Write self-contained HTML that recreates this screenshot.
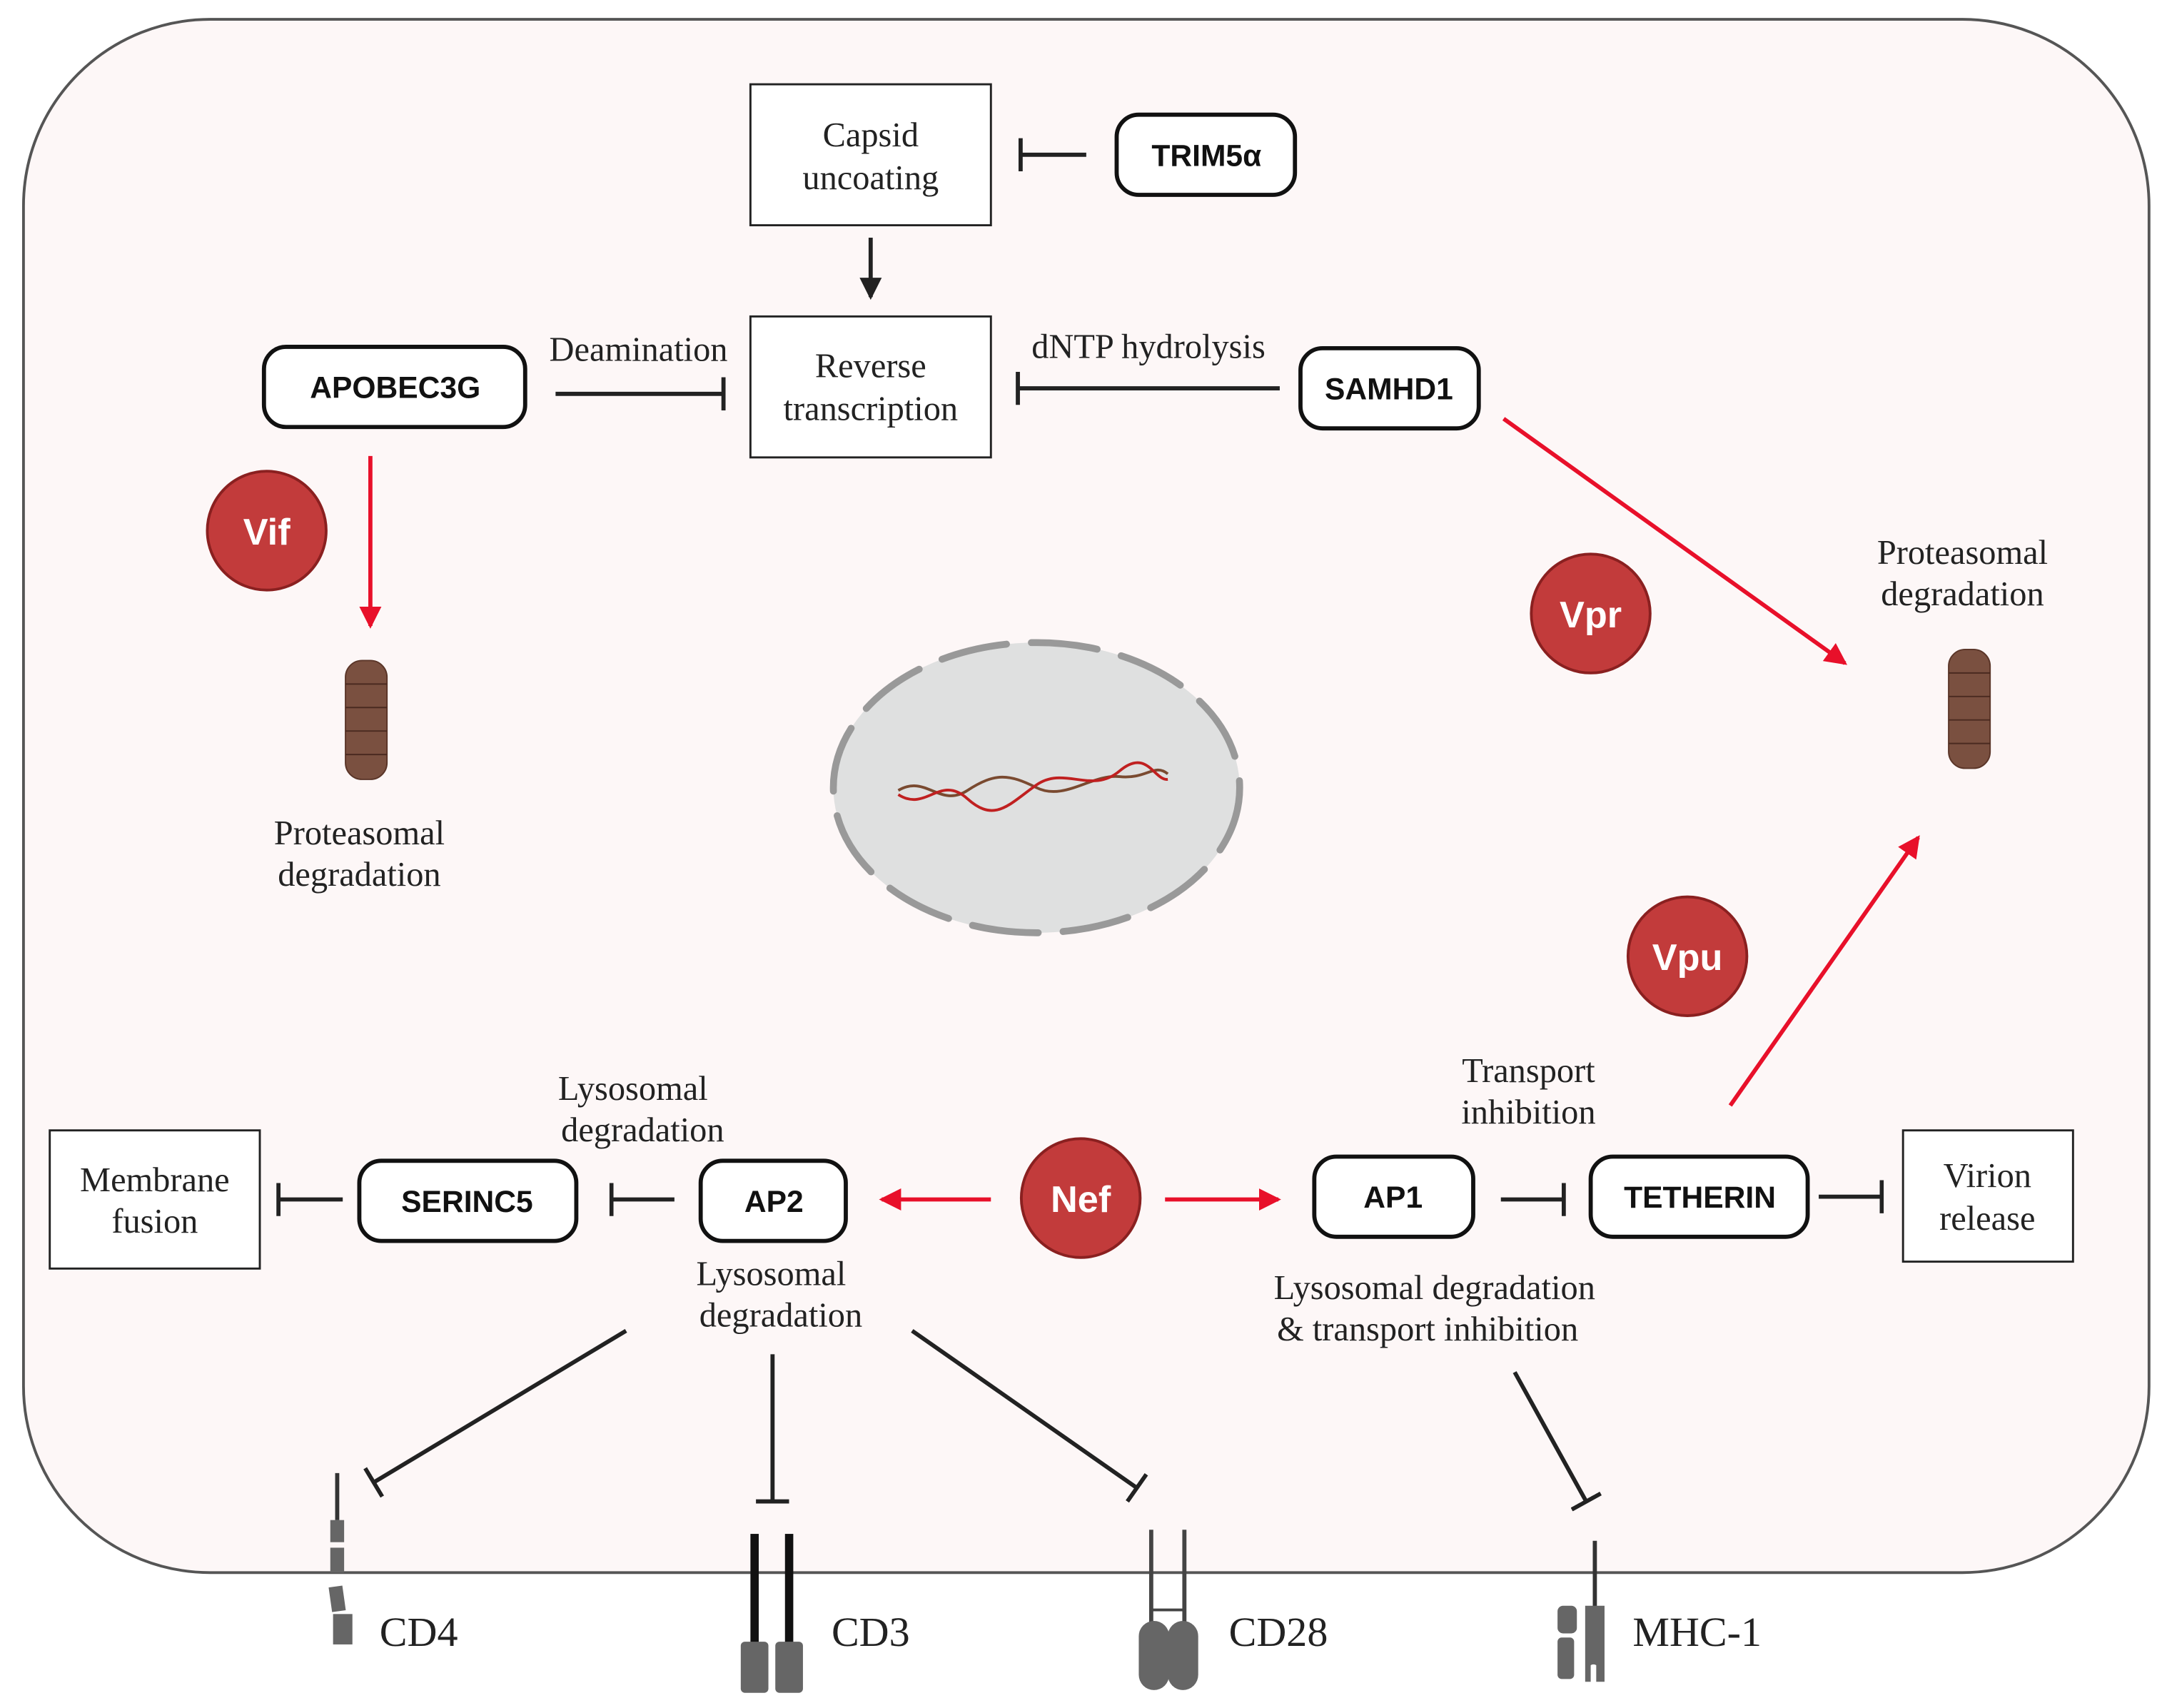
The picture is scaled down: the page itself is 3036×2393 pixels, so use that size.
<!DOCTYPE html>
<html><head><meta charset="utf-8"><style>
html,body{margin:0;padding:0;background:#fff;width:3036px;height:2393px;overflow:hidden}
svg{display:block}
.s{font-family:"Liberation Serif",serif;font-size:25px;fill:#222;text-anchor:middle}
.b{font-family:"Liberation Sans",sans-serif;font-size:22px;font-weight:bold;fill:#111;text-anchor:middle}
.v{font-family:"Liberation Sans",sans-serif;font-size:27px;font-weight:bold;fill:#fff;text-anchor:middle}
</style></head><body>
<svg width="3036" height="2393" viewBox="0 0 1568 1236" preserveAspectRatio="none" xmlns="http://www.w3.org/2000/svg">
<defs>
<marker id="ka" markerWidth="20" markerHeight="20" refX="14" refY="8" orient="auto" markerUnits="userSpaceOnUse"><path d="M0,0 L16,8 L0,16 Z" fill="#222"/></marker>
<marker id="rb" markerWidth="20" markerHeight="20" refX="14" refY="8" orient="auto" markerUnits="userSpaceOnUse"><path d="M0,0 L16,8 L0,16 Z" fill="#e8102a"/></marker>
<marker id="bar" markerWidth="4" markerHeight="24" refX="2" refY="12" orient="auto" markerUnits="userSpaceOnUse"><rect x="0" y="0" width="3" height="24" fill="#222"/></marker>
</defs>
<rect x="17" y="14" width="1538" height="1124" rx="135" fill="#fdf7f7" stroke="#555" stroke-width="2"/>
<rect x="543" y="61" width="174" height="102" fill="#fff" stroke="#222" stroke-width="1.5"/>
<text class="s" x="630" y="106">Capsid</text><text class="s" x="630" y="137">uncoating</text>
<rect x="808" y="83" width="129" height="58" rx="16" fill="#fff" stroke="#111" stroke-width="3"/>
<text class="b" x="873" y="120">TRIM5α</text>
<line x1="786" y1="112" x2="738" y2="112" stroke="#222" stroke-width="3" marker-end="url(#bar)"/>
<line x1="630" y1="172" x2="630" y2="215" stroke="#222" stroke-width="3" marker-end="url(#ka)"/>
<rect x="543" y="229" width="174" height="102" fill="#fff" stroke="#222" stroke-width="1.5"/>
<text class="s" x="630" y="273">Reverse</text><text class="s" x="630" y="304">transcription</text>
<rect x="191" y="251" width="189" height="58" rx="16" fill="#fff" stroke="#111" stroke-width="3"/>
<text class="b" x="286" y="288">APOBEC3G</text>
<text class="s" x="462" y="261">Deamination</text>
<line x1="402" y1="285" x2="524" y2="285" stroke="#222" stroke-width="3" marker-end="url(#bar)"/>
<text class="s" x="831" y="259">dNTP hydrolysis</text>
<line x1="926" y1="281" x2="736" y2="281" stroke="#222" stroke-width="3" marker-end="url(#bar)"/>
<rect x="941" y="252" width="129" height="58" rx="16" fill="#fff" stroke="#111" stroke-width="3"/>
<text class="b" x="1005" y="289">SAMHD1</text>
<line x1="1088" y1="303" x2="1335" y2="480" stroke="#e8102a" stroke-width="3" marker-end="url(#rb)"/>
<line x1="268" y1="330" x2="268" y2="453" stroke="#e8102a" stroke-width="3" marker-end="url(#rb)"/>
<circle cx="193" cy="384" r="43" fill="#c23b3b" stroke="#8a2020" stroke-width="2"/><text class="v" x="193" y="394">Vif</text>
<circle cx="1151" cy="444" r="43" fill="#c23b3b" stroke="#8a2020" stroke-width="2"/><text class="v" x="1151" y="454">Vpr</text>
<circle cx="1221" cy="692" r="43" fill="#c23b3b" stroke="#8a2020" stroke-width="2"/><text class="v" x="1221" y="702">Vpu</text>
<circle cx="782" cy="867" r="43" fill="#c23b3b" stroke="#8a2020" stroke-width="2"/><text class="v" x="782" y="877">Nef</text>
<g fill="#7a5040" stroke="#5a3528" stroke-width="1">
<rect x="250" y="478" width="30" height="86" rx="12"/>
<rect x="1410" y="470" width="30" height="86" rx="12"/>
</g>
<g stroke="#4a2a20" stroke-width="1">
<line x1="250" y1="495" x2="280" y2="495"/><line x1="250" y1="512" x2="280" y2="512"/><line x1="250" y1="529" x2="280" y2="529"/><line x1="250" y1="546" x2="280" y2="546"/>
<line x1="1410" y1="487" x2="1440" y2="487"/><line x1="1410" y1="504" x2="1440" y2="504"/><line x1="1410" y1="521" x2="1440" y2="521"/><line x1="1410" y1="538" x2="1440" y2="538"/>
</g>
<text class="s" x="260" y="611">Proteasomal</text><text class="s" x="260" y="641">degradation</text>
<text class="s" x="1420" y="408">Proteasomal</text><text class="s" x="1420" y="438">degradation</text>
<ellipse cx="750" cy="570" rx="147" ry="105" fill="#dfe0e0" stroke="#999" stroke-width="5" stroke-dasharray="48,18" stroke-linecap="round"/>
<path d="M650,572 C670,560 680,585 700,572 S730,560 750,570 S790,560 810,562 S835,552 845,560" fill="none" stroke="#7a4a30" stroke-width="2"/>
<path d="M650,575 C670,588 680,560 700,578 S730,582 750,568 S790,575 810,558 S835,565 845,564" fill="none" stroke="#c02020" stroke-width="2"/>
<line x1="1252" y1="800" x2="1388" y2="606" stroke="#e8102a" stroke-width="3" marker-end="url(#rb)"/>
<text class="s" x="1106" y="783">Transport</text><text class="s" x="1106" y="813">inhibition</text>
<rect x="36" y="818" width="152" height="100" fill="#fff" stroke="#222" stroke-width="1.5"/>
<text class="s" x="112" y="862">Membrane</text><text class="s" x="112" y="892">fusion</text>
<line x1="248" y1="868" x2="201" y2="868" stroke="#222" stroke-width="3" marker-end="url(#bar)"/>
<rect x="260" y="840" width="157" height="58" rx="16" fill="#fff" stroke="#111" stroke-width="3"/>
<text class="b" x="338" y="877">SERINC5</text>
<line x1="488" y1="868" x2="442" y2="868" stroke="#222" stroke-width="3" marker-end="url(#bar)"/>
<rect x="507" y="840" width="105" height="58" rx="16" fill="#fff" stroke="#111" stroke-width="3"/>
<text class="b" x="560" y="877">AP2</text>
<text class="s" x="458" y="796">Lysosomal</text><text class="s" x="465" y="826">degradation</text>
<text class="s" x="558" y="930">Lysosomal</text><text class="s" x="565" y="960">degradation</text>
<line x1="717" y1="868" x2="638" y2="868" stroke="#e8102a" stroke-width="3" marker-end="url(#rb)"/>
<line x1="843" y1="868" x2="925" y2="868" stroke="#e8102a" stroke-width="3" marker-end="url(#rb)"/>
<rect x="951" y="837" width="115" height="58" rx="16" fill="#fff" stroke="#111" stroke-width="3"/>
<text class="b" x="1008" y="874">AP1</text>
<line x1="1086" y1="868" x2="1132" y2="868" stroke="#222" stroke-width="3" marker-end="url(#bar)"/>
<rect x="1151" y="837" width="157" height="58" rx="16" fill="#fff" stroke="#111" stroke-width="3"/>
<text class="b" x="1230" y="874">TETHERIN</text>
<line x1="1316" y1="866" x2="1362" y2="866" stroke="#222" stroke-width="3" marker-end="url(#bar)"/>
<rect x="1377" y="818" width="123" height="95" fill="#fff" stroke="#222" stroke-width="1.5"/>
<text class="s" x="1438" y="859">Virion</text><text class="s" x="1438" y="890">release</text>
<text class="s" x="1038" y="940">Lysosomal degradation</text><text class="s" x="1033" y="970">&amp; transport inhibition</text>
<line x1="453" y1="963" x2="270" y2="1073" stroke="#222" stroke-width="3" marker-end="url(#bar)"/>
<line x1="559" y1="980" x2="559" y2="1087" stroke="#222" stroke-width="3" marker-end="url(#bar)"/>
<line x1="660" y1="963" x2="823" y2="1077" stroke="#222" stroke-width="3" marker-end="url(#bar)"/>
<line x1="1096" y1="993" x2="1148" y2="1087" stroke="#222" stroke-width="3" marker-end="url(#bar)"/>
<line x1="244" y1="1066" x2="244" y2="1100" stroke="#333" stroke-width="3"/>
<rect x="239" y="1100" width="10" height="16" fill="#666"/><rect x="239" y="1120" width="10" height="18" fill="#666"/>
<rect x="239" y="1148" width="10" height="18" fill="#666" transform="rotate(-8 244 1157)"/><rect x="241" y="1168" width="14" height="22" fill="#666"/>
<text class="s" x="303" y="1191" style="font-size:30px">CD4</text>
<rect x="543" y="1110" width="6" height="85" fill="#111"/><rect x="568" y="1110" width="6" height="85" fill="#111"/>
<rect x="536" y="1188" width="20" height="37" rx="3" fill="#666"/><rect x="561" y="1188" width="20" height="37" rx="3" fill="#666"/>
<text class="s" x="630" y="1191" style="font-size:30px">CD3</text>
<line x1="833" y1="1107" x2="833" y2="1175" stroke="#444" stroke-width="3"/><line x1="857" y1="1107" x2="857" y2="1175" stroke="#444" stroke-width="3"/>
<line x1="833" y1="1165" x2="857" y2="1165" stroke="#444" stroke-width="2"/>
<rect x="824" y="1173" width="22" height="50" rx="11" fill="#666"/><rect x="845" y="1173" width="22" height="50" rx="11" fill="#666"/>
<text class="s" x="925" y="1191" style="font-size:30px">CD28</text>
<line x1="1154" y1="1115" x2="1154" y2="1165" stroke="#333" stroke-width="3"/>
<rect x="1127" y="1162" width="14" height="20" rx="4" fill="#666"/><rect x="1127" y="1185" width="12" height="30" rx="3" fill="#666"/>
<path d="M1147,1162 h14 v55 h-6 v-12 a4,4 0 0 0 -4,0 v12 h-4 z" fill="#666"/>
<text class="s" x="1228" y="1191" style="font-size:30px">MHC-1</text>
</svg>
</body></html>
